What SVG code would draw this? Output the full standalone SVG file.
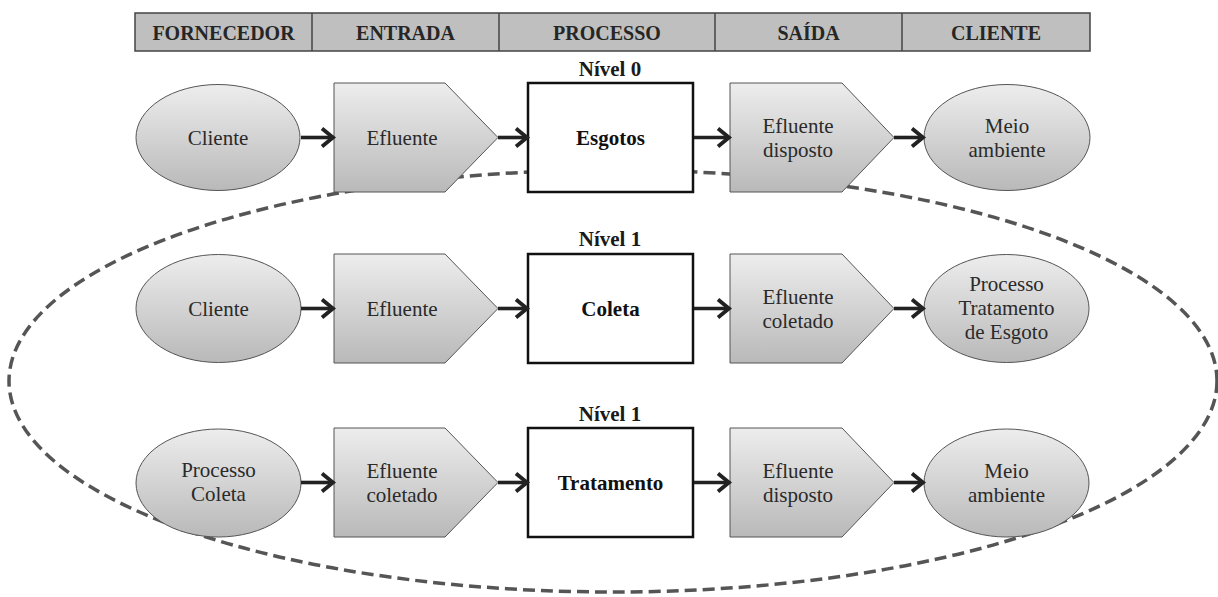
<svg xmlns="http://www.w3.org/2000/svg" width="1218" height="597" viewBox="0 0 1218 597">
  <defs>
    <linearGradient id="shade" x1="0" y1="0" x2="0" y2="1">
      <stop offset="0" stop-color="#ededed"/>
      <stop offset="1" stop-color="#b9b9b9"/>
    </linearGradient>
    <marker id="chevron" viewBox="0 0 16 22" markerWidth="16" markerHeight="22" refX="13" refY="11" orient="auto" markerUnits="userSpaceOnUse">
      <path d="M2,2 L13,11 L2,20" fill="none" stroke="#222" stroke-width="3.8"/>
    </marker>
  </defs>
  <style>
    .hdr { fill: #bfbfbf; stroke: #444; stroke-width: 1.5; }
    .hdr-div { stroke: #444; stroke-width: 1.5; }
    .serif { font-family: "Liberation Serif", "DejaVu Serif", serif; }
    .hdr-t { font-weight: bold; font-size: 20px; fill: #262626; text-anchor: middle; }
    .lvl { font-weight: bold; font-size: 21px; fill: #1a1a1a; text-anchor: middle; }
    .oval, .tag { fill: url(#shade); stroke: #555; stroke-width: 1; }
    .proc { fill: #fff; stroke: #111; stroke-width: 2.5; }
    .t { font-size: 21px; fill: #2a2a2a; text-anchor: middle; }
    .tb { font-weight: bold; font-size: 21px; fill: #111; text-anchor: middle; }
    .link { stroke: #222; stroke-width: 3.6; fill: none; marker-end: url(#chevron); }
    .scope { fill: none; stroke: #555; stroke-width: 3.5; stroke-dasharray: 12 6; }
  </style>

  <!-- column header -->
  <g id="header" font-family="Liberation Serif, DejaVu Serif, serif">
    <rect class="hdr" x="135" y="13" width="955" height="38"/>
    <line class="hdr-div" x1="312" y1="13" x2="312" y2="51"/>
    <line class="hdr-div" x1="499" y1="13" x2="499" y2="51"/>
    <line class="hdr-div" x1="715" y1="13" x2="715" y2="51"/>
    <line class="hdr-div" x1="902" y1="13" x2="902" y2="51"/>
    <text class="hdr-t serif" x="223.5" y="40">FORNECEDOR</text>
    <text class="hdr-t serif" x="405.5" y="40">ENTRADA</text>
    <text class="hdr-t serif" x="607" y="40">PROCESSO</text>
    <text class="hdr-t serif" x="808.5" y="40">SAÍDA</text>
    <text class="hdr-t serif" x="996" y="40">CLIENTE</text>
  </g>

  <!-- dashed boundary enclosing the level-1 breakdown -->
  <ellipse id="scope" class="scope" cx="613" cy="381" rx="604" ry="211"/>

  <!-- level labels -->
  <g id="levels" font-family="Liberation Serif, DejaVu Serif, serif">
    <text class="lvl serif" x="610" y="76">Nível 0</text>
    <text class="lvl serif" x="610" y="246">Nível 1</text>
    <text class="lvl serif" x="610" y="421">Nível 1</text>
  </g>

  <g id="nodes" font-family="Liberation Serif, DejaVu Serif, serif">
    <!-- row 1: Nível 0 -->
    <g id="r1-fornecedor">
      <ellipse class="oval" cx="218" cy="137.5" rx="82" ry="53"/>
      <text class="t serif" x="218" y="145">Cliente</text>
    </g>
    <g id="r1-entrada">
      <polygon class="tag" points="334,83 445,83 498,137.5 445,192 334,192"/>
      <text class="t serif" x="402" y="145">Efluente</text>
    </g>
    <g id="r1-processo">
      <rect class="proc" x="528" y="83" width="165" height="109"/>
      <text class="tb serif" x="610.5" y="145">Esgotos</text>
    </g>
    <g id="r1-saida">
      <polygon class="tag" points="730,83 842,83 894,137.5 842,192 730,192"/>
      <text class="t serif" x="798" y="133">Efluente</text>
      <text class="t serif" x="798" y="157">disposto</text>
    </g>
    <g id="r1-cliente">
      <ellipse class="oval" cx="1007" cy="137.5" rx="83" ry="53"/>
      <text class="t serif" x="1007" y="133">Meio</text>
      <text class="t serif" x="1007" y="157">ambiente</text>
    </g>

    <!-- row 2: Nível 1, coleta -->
    <g id="r2-fornecedor">
      <ellipse class="oval" cx="218.5" cy="308.5" rx="82.5" ry="54"/>
      <text class="t serif" x="218.5" y="316">Cliente</text>
    </g>
    <g id="r2-entrada">
      <polygon class="tag" points="334,254 445,254 498,308.5 445,363 334,363"/>
      <text class="t serif" x="402" y="316">Efluente</text>
    </g>
    <g id="r2-processo">
      <rect class="proc" x="528" y="254" width="165" height="109"/>
      <text class="tb serif" x="610.5" y="316">Coleta</text>
    </g>
    <g id="r2-saida">
      <polygon class="tag" points="730,254 842,254 894,308.5 842,363 730,363"/>
      <text class="t serif" x="798" y="304">Efluente</text>
      <text class="t serif" x="798" y="328">coletado</text>
    </g>
    <g id="r2-cliente">
      <ellipse class="oval" cx="1006.5" cy="308.5" rx="82.5" ry="54"/>
      <text class="t serif" x="1006.5" y="291">Processo</text>
      <text class="t serif" x="1006.5" y="315">Tratamento</text>
      <text class="t serif" x="1006.5" y="339">de Esgoto</text>
    </g>

    <!-- row 3: Nível 1, tratamento -->
    <g id="r3-fornecedor">
      <ellipse class="oval" cx="218.5" cy="483" rx="82.5" ry="54"/>
      <text class="t serif" x="218.5" y="477">Processo</text>
      <text class="t serif" x="218.5" y="501">Coleta</text>
    </g>
    <g id="r3-entrada">
      <polygon class="tag" points="334,428 445,428 498,482.5 445,537 334,537"/>
      <text class="t serif" x="402" y="478">Efluente</text>
      <text class="t serif" x="402" y="502">coletado</text>
    </g>
    <g id="r3-processo">
      <rect class="proc" x="528" y="428" width="165" height="109"/>
      <text class="tb serif" x="610.5" y="490">Tratamento</text>
    </g>
    <g id="r3-saida">
      <polygon class="tag" points="730,428 842,428 894,482.5 842,537 730,537"/>
      <text class="t serif" x="798" y="478">Efluente</text>
      <text class="t serif" x="798" y="502">disposto</text>
    </g>
    <g id="r3-cliente">
      <ellipse class="oval" cx="1006.5" cy="483" rx="82.5" ry="54"/>
      <text class="t serif" x="1006.5" y="478">Meio</text>
      <text class="t serif" x="1006.5" y="502">ambiente</text>
    </g>
  </g>

  <!-- flow connectors -->
  <g id="connectors">
    <line class="link" x1="301" y1="137.5" x2="333" y2="137.5"/>
    <line class="link" x1="498" y1="137.5" x2="527" y2="137.5"/>
    <line class="link" x1="694" y1="137.5" x2="729" y2="137.5"/>
    <line class="link" x1="894" y1="137.5" x2="923" y2="137.5"/>

    <line class="link" x1="301" y1="308.5" x2="333" y2="308.5"/>
    <line class="link" x1="498" y1="308.5" x2="527" y2="308.5"/>
    <line class="link" x1="694" y1="308.5" x2="729" y2="308.5"/>
    <line class="link" x1="894" y1="308.5" x2="923" y2="308.5"/>

    <line class="link" x1="301" y1="482.5" x2="333" y2="482.5"/>
    <line class="link" x1="498" y1="482.5" x2="527" y2="482.5"/>
    <line class="link" x1="694" y1="482.5" x2="729" y2="482.5"/>
    <line class="link" x1="894" y1="482.5" x2="923" y2="482.5"/>
  </g>
</svg>
